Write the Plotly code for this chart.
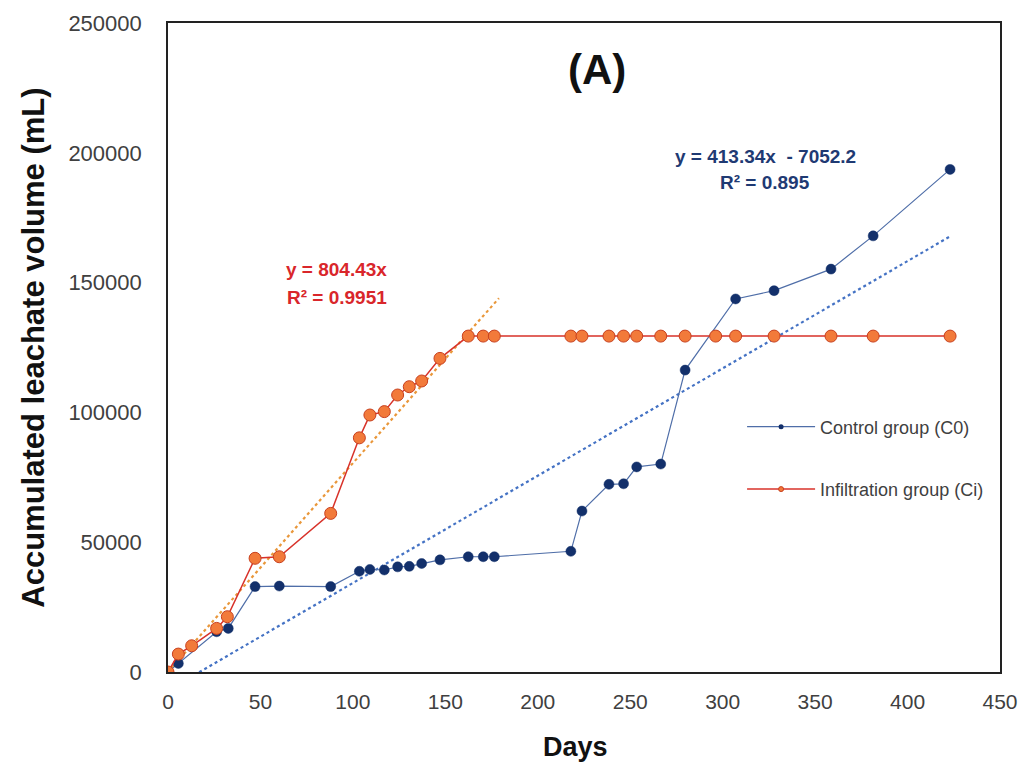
import plotly.graph_objects as go

# Control group (C0)
c0_days = [0, 5.6, 26.3, 32.6, 47.1, 60.2, 88.0, 103.5, 109.2, 117.0, 124.2, 130.5, 137.2,
           147.1, 162.4, 170.5, 176.5, 217.9, 223.9, 238.5, 246.4, 253.5, 266.5, 279.7,
           307.0, 327.8, 358.6, 381.4, 423.0]
c0_vol = [0, 3300, 15500, 16800, 32900, 33100, 32900, 38800, 39500, 39300, 40500, 40700,
          41800, 43200, 44400, 44400, 44400, 46500, 62000, 72300, 72500, 79000, 80100,
          116300, 143700, 146900, 155200, 168000, 193600]

# Infiltration group (Ci)
ci_days = [0, 5.6, 12.8, 26.3, 32.1, 47.1, 60.2, 88.0, 103.5, 109.2, 117.0, 124.2, 130.5,
           137.2, 147.1, 162.4, 170.5, 176.5, 217.9, 223.9, 238.5, 246.4, 253.5, 266.5,
           279.7, 296.2, 307.0, 327.8, 358.6, 381.4, 423.0]
ci_vol = [0, 6900, 10100, 16800, 21300, 43800, 44400, 61100, 90200, 99000, 100300, 106700,
          109900, 112100, 120800, 129400, 129400, 129400, 129400, 129400, 129400, 129400,
          129400, 129400, 129400, 129400, 129400, 129400, 129400, 129400, 129400]

# Linear trendlines (equations printed on the chart)
c0_slope, c0_intercept = 413.34, -7052.2
ci_slope = 804.43
c0_trend_x = [0, 423]
ci_trend_x = [0, 179]

x_ticks = list(range(0, 451, 50))
y_ticks = list(range(0, 250001, 50000))

fig = go.Figure()

fig.add_trace(go.Scatter(
    x=c0_trend_x, y=[c0_slope * x + c0_intercept for x in c0_trend_x],
    mode="lines", line=dict(color="#4472C4", width=2.2, dash="dot"),
    showlegend=False, hoverinfo="skip"))
fig.add_trace(go.Scatter(
    x=ci_trend_x, y=[ci_slope * x for x in ci_trend_x],
    mode="lines", line=dict(color="#E9973A", width=2.2, dash="dot"),
    showlegend=False, hoverinfo="skip"))

fig.add_trace(go.Scatter(
    x=c0_days, y=c0_vol, mode="lines+markers", name="Control group (C0)",
    line=dict(color="#4F6EA8", width=1.2), showlegend=False,
    marker=dict(color="#13306B", size=10, line=dict(color="#13306B", width=0.5))))
fig.add_trace(go.Scatter(
    x=ci_days, y=ci_vol, mode="lines+markers", name="Infiltration group (Ci)",
    line=dict(color="#D8322A", width=1.5), showlegend=False,
    marker=dict(color="#F27A3A", size=12, line=dict(color="#C8401E", width=1))))

# legend entries (small markers, as in the original legend)
fig.add_trace(go.Scatter(
    x=[None], y=[None], mode="lines+markers", name="Control group (C0)", legendgroup="c0",
    line=dict(color="#4F6EA8", width=1.3), marker=dict(color="#13306B", size=5)))
fig.add_trace(go.Scatter(
    x=[None], y=[None], mode="lines+markers", name="Infiltration group (Ci)", legendgroup="ci",
    line=dict(color="#D8322A", width=1.5),
    marker=dict(color="#F27A3A", size=5, line=dict(color="#C8401E", width=1))))

fig.add_annotation(x=0.516, xref="paper", y=232000, yref="y", text="<b>(A)</b>",
                   showarrow=False, font=dict(family="Arial", size=42, color="#111111"))
fig.add_annotation(x=91.4, y=155200, text="<b>y = 804.43x</b>", showarrow=False,
                   font=dict(family="Arial", size=19, color="#D9262B"))
fig.add_annotation(x=91.4, y=144100, text="<b>R² = 0.9951</b>", showarrow=False,
                   font=dict(family="Arial", size=19, color="#D9262B"))
fig.add_annotation(x=322.9, y=198400, text="<b>y = 413.34x  - 7052.2</b>", showarrow=False,
                   font=dict(family="Arial", size=19, color="#1F3A73"))
fig.add_annotation(x=322.9, y=188700, text="<b>R² = 0.895</b>", showarrow=False,
                   font=dict(family="Arial", size=19, color="#1F3A73"))

# axis titles
fig.add_annotation(x=-0.162, xref="paper", y=0.50, yref="paper", textangle=-90,
                   xanchor="center", yanchor="middle",
                   text="<b>Accumulated leachate volume (mL)</b>", showarrow=False,
                   font=dict(family="Arial", size=31, color="#111111"))
fig.add_annotation(x=0.49, xref="paper", y=-0.1156, yref="paper",
                   xanchor="center", yanchor="middle",
                   text="<b>Days</b>", showarrow=False,
                   font=dict(family="Arial", size=27, color="#111111"))

# page body adds an 8 px offset, margins compensate so the plot frame sits at
# x 168..1000, y 23..672 of the screenshot
fig.update_layout(
    width=1026, height=769,
    margin=dict(l=160, r=34, t=15, b=105),
    paper_bgcolor="white", plot_bgcolor="white",
    font=dict(family="Arial", color="#404040"),
    showlegend=True,
    legend=dict(x=0.690, y=0.406, xanchor="left", yanchor="top",
                bgcolor="rgba(255,255,255,0)",
                font=dict(family="Arial", size=18, color="#404040"),
                tracegroupgap=36, itemwidth=68),
    xaxis=dict(range=[0, 450], tickvals=x_ticks, showgrid=False, zeroline=False,
               showline=True, linecolor="#222222", linewidth=1.6, mirror=True,
               ticks="", automargin=False, ticklabelstandoff=10,
               tickfont=dict(family="Arial", size=21, color="#404040")),
    yaxis=dict(range=[0, 250000], tickvals=y_ticks, tickformat="d",
               showgrid=False, zeroline=False,
               showline=True, linecolor="#222222", linewidth=1.6, mirror=True,
               ticks="", automargin=False, ticklabelstandoff=20,
               tickfont=dict(family="Arial", size=22, color="#404040")),
)

fig.write_html("out.html")
